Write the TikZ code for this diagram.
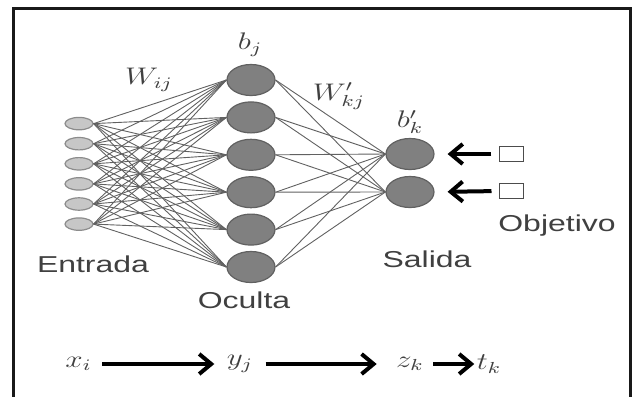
\documentclass[tikz,border=0pt]{standalone}
\usepackage{fontspec}
\newfontfamily\labelfont{Liberation Sans}
\usetikzlibrary{shapes.geometric,arrows.meta}

\begin{document}
\begin{tikzpicture}[x=0.5pt,y=-0.5pt,
  lbl/.style={transform shape,xscale=1.39,inner sep=0pt,text=black!75,
    font=\labelfont\fontsize{11.5}{13}\selectfont},
  mth/.style={transform shape,xscale=1.3,inner sep=0pt,text=black!75,
    font=\fontsize{12}{14}\selectfont},
  inp/.style={ellipse,draw=black!45,fill=black!22,line width=0.6pt,
    minimum width=14pt,minimum height=6.2pt,inner sep=0pt},
  neur/.style={ellipse,draw=black!62,fill=black!50,line width=0.6pt,
    minimum width=24pt,minimum height=15.5pt,inner sep=0pt},
  wire/.style={black!62,line width=0.45pt},
  goal/.style={rectangle,draw=black!70,fill=white,line width=0.5pt,
    minimum width=12pt,minimum height=7.5pt,inner sep=0pt},
  big arrow/.style={line width=2pt,-{Straight Barb[length=6pt,width=10pt]}}]
  \useasboundingbox (0,0) rectangle (634,397);
  \draw[line width=1.5pt,black!90] (13.5,397) -- (13.5,8) -- (631,8) -- (631,397);

  \foreach \i in {1,...,6}
    \node[inp] (i\i) at (79,{103.5+20.1*\i}) {};
  \foreach \j in {1,...,6}
    \node[neur] (h\j) at (251,{42.6+37.4*\j}) {};
  \node[neur] (o1) at (410,154) {};
  \node[neur] (o2) at (410,192) {};

  \foreach \i in {1,...,6}
    \foreach \j in {1,...,6}
      \draw[wire] (i\i.east) -- (h\j.west);
  \foreach \j in {1,...,6}
    \foreach \k in {1,2}
      \draw[wire] (h\j.east) -- (o\k.west);

  \node[goal] (s1) at (512,154) {};
  \node[goal] (s2) at (512,191) {};
  \draw[big arrow,shorten <=4pt,shorten >=6.5pt] (s1.west) -- (o1.east);
  \draw[big arrow,shorten <=4pt,shorten >=6.5pt] (s2.west) -- (o2.east);

  \node[mth] (bj) at (250,45) {$b_j$};
  \node[mth] (wij) at (149,80) {$W_{ij}$};
  \node[mth] (wkj) at (339,96) {$W'_{kj}$};
  \node[mth] (bk) at (410,122) {$b'_k$};

  \node[lbl,anchor=base] (ent) at (93,272) {Entrada};
  \node[lbl,anchor=base] (ocu) at (244,308) {Oculta};
  \node[lbl,anchor=base] (sal) at (427,267) {Salida};
  \node[lbl,anchor=base] (obj) at (557,231.5) {Objetivo};

  \node[mth] (xi) at (78.5,364) {$x_i$};
  \node[mth] (yj) at (240,364) {$y_j$};
  \node[mth] (zk) at (410,364) {$z_k$};
  \node[mth] (tk) at (489,364) {$t_k$};
  \draw[big arrow,shorten <=5pt,shorten >=6pt] (xi) -- (yj);
  \draw[big arrow,shorten <=6pt,shorten >=9.5pt] (yj) -- (zk);
  \draw[big arrow,shorten <=4.5pt,shorten >=1pt] (zk) -- (tk);
\end{tikzpicture}
\end{document}
